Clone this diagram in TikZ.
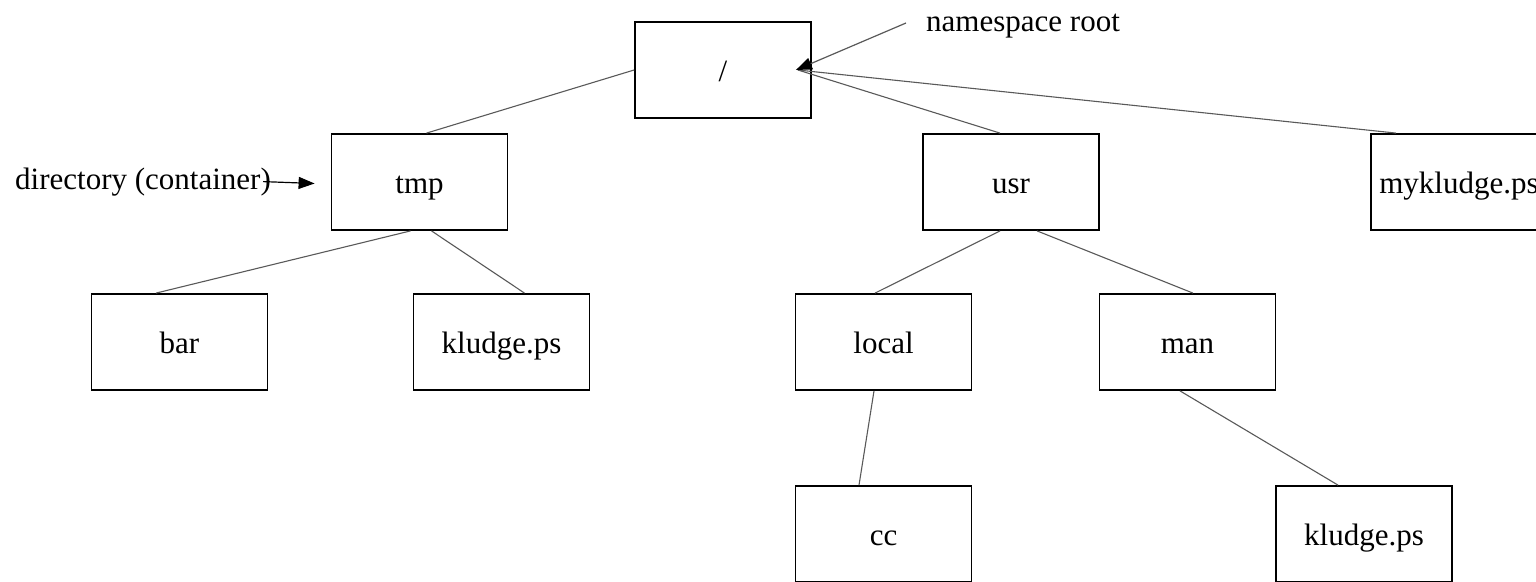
\documentclass[tikz,border=0pt]{standalone}
\usepackage{fontspec}
\setmainfont{Liberation Serif}
\usetikzlibrary{arrows.meta}
\begin{document}
\begin{tikzpicture}[x=1pt,y=-1pt,
  box/.style={draw=black,line width=1.8pt,minimum width=176pt,minimum height=96pt,
    inner sep=0pt,text height=22pt,text depth=0pt,font=\fontsize{31}{36}\selectfont},
  link/.style={draw=black!65,line width=1.1pt},
  note/.style={inner sep=0pt,font=\fontsize{31}{36}\selectfont},
  pointer/.style={line width=1.2pt,-{Triangle[length=16pt,width=12pt,color=black]}}]
\useasboundingbox (0,0) rectangle (1536,581);

% file system tree
\node[box] (root)  at (723,70)     {/};
\node[box] (tmp)   at (419.5,182)  {tmp};
\node[box] (usr)   at (1011,182)   {usr};
\node[box] (myk)   at (1459,182)   {mykludge.ps};
\node[box] (bar)   at (179.5,342)  {bar};
\node[box] (kla)   at (501.5,342)  {kludge.ps};
\node[box] (local) at (883.5,342)  {local};
\node[box] (man)   at (1187.5,342) {man};
\node[box] (cc)    at (883.5,534)  {cc};
\node[box] (klb)   at (1364,534)   {kludge.ps};

% edges
\coordinate (hub) at ([xshift=-14pt]root.east);
\draw[link] (root.west) -- ([xshift=7pt]tmp.north);
\draw[link] (hub) -- ([xshift=-11pt]usr.north);
\draw[link] (hub) -- ([xshift=26pt]myk.north west);
\draw[link] ([xshift=-9pt]tmp.south) -- ([xshift=-23.5pt]bar.north);
\draw[link] ([xshift=12pt]tmp.south) -- ([xshift=23pt]kla.north);
\draw[link] ([xshift=-11pt]usr.south) -- ([xshift=-8.5pt]local.north);
\draw[link] ([xshift=26pt]usr.south) -- ([xshift=5.5pt]man.north);
\draw[link] ([xshift=-9.5pt]local.south) -- ([xshift=-24.5pt]cc.north);
\draw[link] ([xshift=-7.5pt]man.south) -- ([xshift=-26pt]klb.north);

% annotations
\node[note,anchor=base west] (dir) at (15,189) {directory (container)};
\draw[pointer,draw=black] ([xshift=-8pt]dir.east) -- ([xshift=-16pt,yshift=-1.5pt]tmp.west);

\node[note,anchor=base west] (ns) at (926,31) {namespace root};
\coordinate (nsfoot) at (906,23);
\draw[pointer,draw=black!65] (nsfoot) -- ([xshift=-2pt]hub);
\end{tikzpicture}
\end{document}
